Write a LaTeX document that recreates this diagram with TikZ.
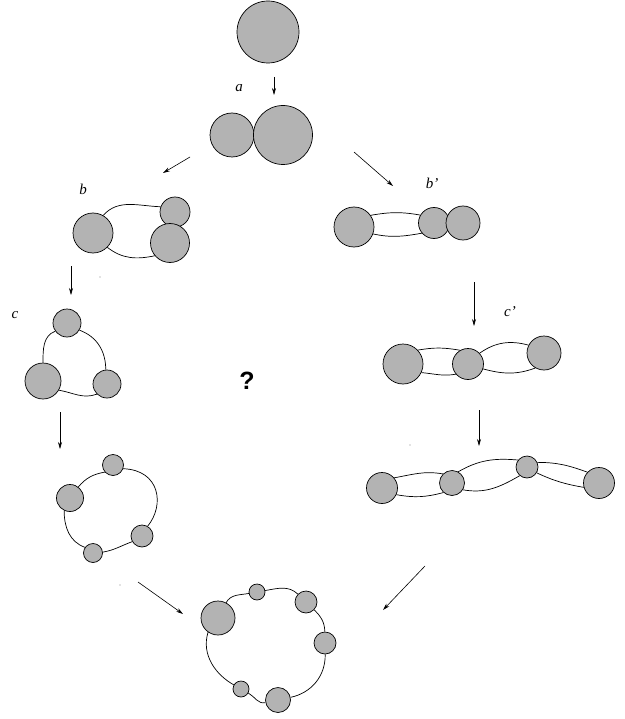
\documentclass[tikz,border=0pt]{standalone}
\usepackage{fontspec}
\setmainfont{Liberation Serif}
\newfontfamily\qfont{Liberation Sans}
\usetikzlibrary{arrows.meta}
\definecolor{ballgray}{RGB}{179,179,179}
\begin{document}
\begin{tikzpicture}[x=1pt,y=1pt,
  ball/.style={circle,draw=black,fill=ballgray,line width=0.7pt,inner sep=0pt,minimum size=#1},
  link/.style={line width=0.7pt},
  flow/.style={line width=0.6pt,-{Stealth[length=7pt,width=4pt]}},
  lab/.style={font=\fontsize{15}{18}\selectfont\itshape,inner sep=0pt},
  speck/.style={circle,fill=gray!45,inner sep=0pt,minimum size=1.6pt}]
\useasboundingbox (0,0) rectangle (624,-719);

% ---- stage 0 and a
\node[ball=62pt] (T) at (268,-32) {};
\node[ball=44pt] (L) at (232,-135) {};
\node[ball=59pt] (R) at (283,-135) {};
\node[lab] (la) at (239,-88) {a};

% ---- b
\node[ball=40pt] (B1) at (93,-233) {};
\node[ball=30pt] (B2) at (175,-212) {};
\node[ball=39pt] (B3) at (170,-243) {};
\node[lab] (lb) at (83,-189) {b};
\draw[link] (B1.60) to[out=48,in=178] (B2.160);
\draw[link] (B1.-45) to[out=-38,in=192] (B3.-140);

% ---- b'
\node[ball=40pt] (P1) at (354,-227) {};
\node[ball=31pt] (P2) at (434,-223) {};
\node[ball=34pt] (P3) at (463,-223) {};
\node[lab] (lbp) at (432,-183) {b'};
\draw[link] (P1.35) to[out=10,in=170] (P2.150);
\draw[link] (P1.-20) to[out=-12,in=190] (P2.-140);

% ---- c
\node[ball=28pt] (C1) at (67,-323) {};
\node[ball=36pt] (C2) at (43,-381) {};
\node[ball=28pt] (C3) at (107,-384) {};
\node[lab] (lc) at (15,-315) {c};
\draw[link] (C1.215) to[out=200,in=90] (C2.90);
\draw[link] (C1.-30) to[out=-20,in=90] (C3.95);
\draw[link] (C2.-30) to[out=-10,in=200] (C3.-135);

% ---- c'
\node[ball=40pt] (Q1) at (403,-364) {};
\node[ball=31pt] (Q2) at (468,-364) {};
\node[ball=34pt] (Q3) at (544,-353) {};
\node[lab] (lcp) at (510,-312) {c'};
\draw[link] (Q1.43) to[out=10,in=170] (Q2.120);
\draw[link] (Q1.-25) to[out=-5,in=190] (Q2.-140);
\draw[link] (Q2.43) to[out=35,in=165] (Q3.153);
\draw[link] (Q2.-18) to[out=-15,in=200] (Q3.-120);

% ---- d
\node[ball=21pt] (D1) at (113,-465) {};
\node[ball=27pt] (D2) at (70,-498) {};
\node[ball=22pt] (D3) at (142,-536) {};
\node[ball=19pt] (D4) at (93,-553) {};
\draw[link] (D2.53) to[out=50,in=190] (D1.221);
\draw[link] (D1.-20) .. controls (160,-470) and (165,-505) .. (D3.60);
\draw[link] (D3.210) to[out=200,in=10] (D4.5);
\draw[link] (D4.145) to[out=160,in=-90] (D2.245);

% ---- e'
\node[ball=31pt] (E1) at (382,-488) {};
\node[ball=25pt] (E2) at (452,-483) {};
\node[ball=22pt] (E3) at (527,-467) {};
\node[ball=31pt] (E4) at (599,-483) {};
\draw[link] (E1.40) to[out=10,in=170] (E2.135);
\draw[link] (E1.-25) to[out=-10,in=195] (E2.-132);
\draw[link] (E2.61) to[out=30,in=175] (E3.142);
\draw[link] (E2.-32) to[out=-10,in=210] (E3.-130);
\draw[link] (E3.24) to[out=0,in=160] (E4.137);
\draw[link] (E3.-31) to[out=-25,in=170] (E4.-164);

% ---- final ring
\node[ball=34pt] (F1) at (218,-618) {};
\node[ball=16pt] (F2) at (257,-592) {};
\node[ball=22pt] (F3) at (306,-602) {};
\node[ball=22pt] (F4) at (325,-643) {};
\node[ball=25pt] (F5) at (278,-700) {};
\node[ball=16pt] (F6) at (241,-689) {};
\draw[link] (F1) to[out=62,in=190] (F2);
\draw[link] (F2) to[out=10,in=136] (F3);
\draw[link] (F3) to[out=-44,in=91] (F4);
\draw[link] (F4) to[out=-89,in=12] (F5);
\draw[link] (F5) to[out=192,in=-29] (F6);
\draw[link] (F6.150) .. controls (216,-675) and (201,-655) .. (F1.235);

% ---- question mark
\node[font=\qfont\bfseries\fontsize{25}{30}\selectfont] (qm) at (247,-381) {?};

% ---- arrows
\coordinate (a1s) at (274,-77);  \coordinate (a1e) at (274,-95);
\coordinate (a2s) at (190,-157); \coordinate (a2e) at (163,-173);
\coordinate (a3s) at (354,-152); \coordinate (a3e) at (393,-186);
\coordinate (a4s) at (71,-266);  \coordinate (a4e) at (71,-295);
\coordinate (a5s) at (474,-282); \coordinate (a5e) at (474,-326);
\coordinate (a6s) at (60,-412);  \coordinate (a6e) at (60,-449);
\coordinate (a7s) at (479,-410); \coordinate (a7e) at (479,-446);
\coordinate (a8s) at (138,-582); \coordinate (a8e) at (183,-614);
\coordinate (a9s) at (425,-566); \coordinate (a9e) at (383,-610);
\foreach \i in {1,...,9} {\draw[flow] (a\i s) -- (a\i e);}

% ---- specks
\node[speck] (s1) at (100,-277) {};
\node[speck] (s2) at (410,-445) {};
\node[speck] (s3) at (120,-585) {};
\end{tikzpicture}
\end{document}
